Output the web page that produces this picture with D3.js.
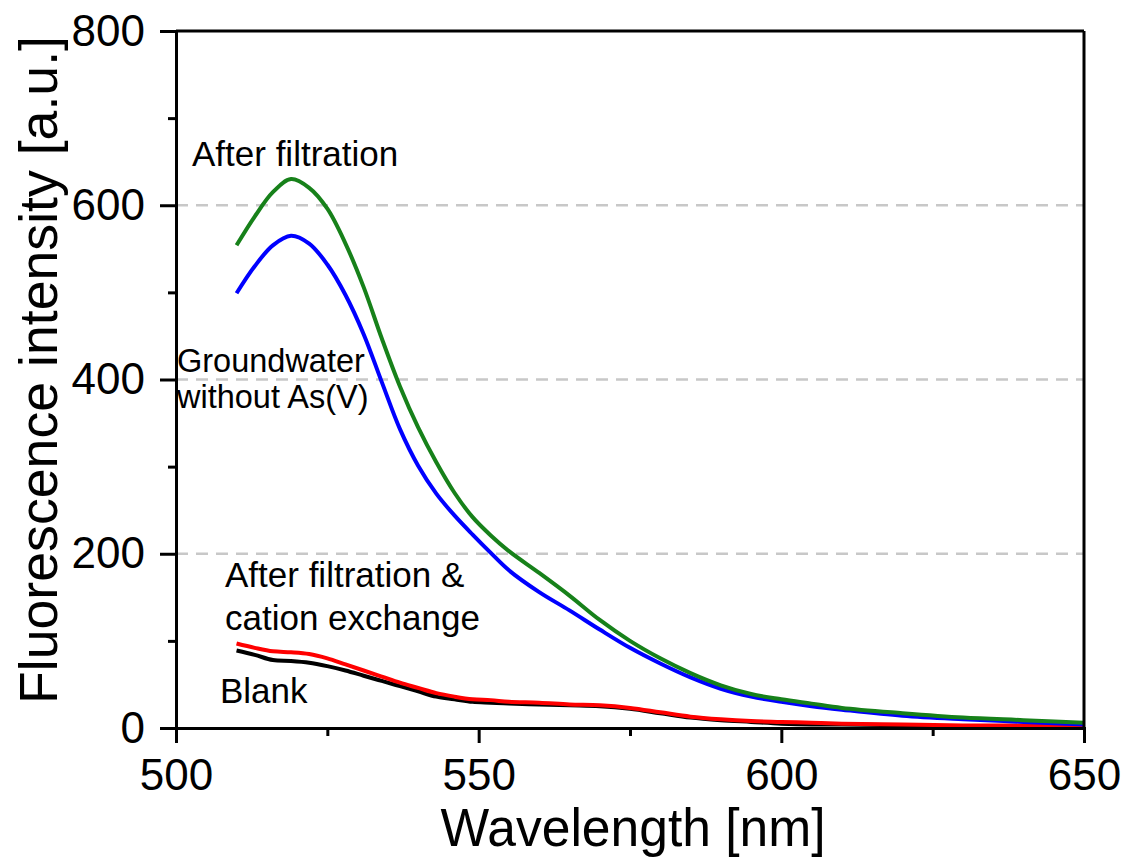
<!DOCTYPE html>
<html>
<head>
<meta charset="utf-8">
<script src="https://cdn.jsdelivr.net/npm/d3@7"></script>
<style>
  body { margin: 0; background: #fff; }
  text { font-family: Arial, "Liberation Sans", sans-serif; fill: #000; }
</style>
</head>
<body>
<div id="chart"></div>
<script>
// wavelengths (nm) and intensities
const wavelength = [510, 513, 516, 519, 522, 525, 528, 531, 534, 537, 540, 543, 546, 549, 552, 555, 560, 565, 570, 575, 580, 585, 590, 595, 600, 605, 610, 620, 630, 640, 650];
const afterFiltration = [554, 587, 615, 630, 620, 596, 556, 506, 447, 392, 345, 305, 270, 242, 221, 203, 178, 152, 124, 100, 80, 63, 49, 39, 33, 28, 23, 17, 12, 9, 6];
const groundwater = [499, 530, 554, 565, 556, 532, 497, 452, 397, 343, 301, 269, 244, 222, 201, 181, 156, 135, 113, 92, 74, 58, 45, 36, 30, 25, 21, 14, 10, 7, 4];
const cationExchange = [97, 92, 88, 87, 85, 80, 73, 66, 59, 52, 46, 40, 36, 33, 32, 30, 29, 27, 26, 23, 18, 13, 10, 8, 7, 6, 5, 4, 3, 3, 3];
const blank = [89, 84, 78, 77, 75, 71, 66, 60, 54, 48, 42, 36, 33, 30, 29, 28, 27, 26, 25, 22, 17, 12, 9, 7, 5, 4, 4, 3, 2, 2, 1];

const xMajor = [500, 550, 600, 650];
const xMinor = [525, 575, 625];
const yMajor = [0, 200, 400, 600, 800];
const yMinor = [100, 300, 500, 700];
const yGrid = [200, 400, 600];

const series = [
  {name: "Blank", values: blank, color: "#000000"},
  {name: "After filtration & cation exchange", values: cationExchange, color: "#ff0000"},
  {name: "Groundwater without As(V)", values: groundwater, color: "#0000ff"},
  {name: "After filtration", values: afterFiltration, color: "#17811a"}
];

const margin = {top: 31, right: 45, bottom: 130, left: 176},
  width = 1129 - margin.left - margin.right,
  height = 858 - margin.top - margin.bottom;

const svg = d3.select("#chart").append("svg")
  .attr("width", 1129)
  .attr("height", 858)
  .append("g")
  .attr("transform", `translate(${margin.left},${margin.top})`);

const x = d3.scaleLinear().domain([500, 650]).range([0, width]);
const y = d3.scaleLinear().domain([0, 800]).range([height, 0]);

// dashed grid
svg.append("g").selectAll("line")
  .data(yGrid)
  .join("line")
  .attr("x1", 0).attr("x2", width)
  .attr("y1", d => y(d)).attr("y2", d => y(d))
  .attr("stroke", "#c8c8c8")
  .attr("stroke-width", 2.5)
  .attr("stroke-dasharray", "12,8");

// curves
const line = d3.line()
  .x((d, i) => x(wavelength[i]))
  .y(d => y(d))
  .curve(d3.curveCatmullRom.alpha(0.5));

svg.append("g").selectAll("path")
  .data(series)
  .join("path")
  .attr("d", d => line(d.values))
  .attr("fill", "none")
  .attr("stroke", d => d.color)
  .attr("stroke-width", 4)
  .attr("stroke-linejoin", "round");

// x axis
svg.append("g").attr("transform", `translate(0,${height})`)
  .call(d3.axisBottom(x).tickValues(xMajor).tickSize(15).tickPadding(16).tickFormat(d3.format("d")));
svg.append("g").attr("transform", `translate(0,${height})`)
  .call(d3.axisBottom(x).tickValues(xMinor).tickSize(8).tickFormat(""))
  .select(".domain").remove();

// y axis
svg.append("g")
  .call(d3.axisLeft(y).tickValues(yMajor).tickSize(16).tickPadding(15).tickFormat(d3.format("d")));
svg.append("g")
  .call(d3.axisLeft(y).tickValues(yMinor).tickSize(8).tickFormat(""))
  .select(".domain").remove();

svg.selectAll(".tick line").attr("stroke", "#000").attr("stroke-width", 3);
svg.selectAll(".domain").attr("stroke", "#000").attr("stroke-width", 3);
svg.selectAll(".tick text").style("font-size", "44px").attr("fill", "#000");

// frame top & right
svg.append("line").attr("x1", 0).attr("x2", width).attr("y1", 0).attr("y2", 0)
  .attr("stroke", "#000").attr("stroke-width", 3);
svg.append("line").attr("x1", width).attr("x2", width).attr("y1", 0).attr("y2", height)
  .attr("stroke", "#000").attr("stroke-width", 3);

// axis titles (narrow, tall lettering as in the figure)
svg.append("text")
  .attr("x", 633 - margin.left)
  .attr("y", 846 - margin.top)
  .attr("text-anchor", "middle")
  .attr("textLength", 385)
  .attr("lengthAdjust", "spacingAndGlyphs")
  .style("font-size", "54px")
  .text("Wavelength [nm]");

svg.append("text")
  .attr("transform", `translate(${57 - margin.left},${370 - margin.top}) rotate(-90)`)
  .attr("text-anchor", "middle")
  .attr("textLength", 668)
  .attr("lengthAdjust", "spacingAndGlyphs")
  .style("font-size", "54px")
  .text("Fluorescence intensity [a.u.]");

// annotations
const notes = [
  {lines: ["After filtration"], x: 192, y: 166, size: 35, gap: 0},
  {lines: ["Groundwater", "without As(V)"], x: 177, y: 372, size: 32.5, gap: 36},
  {lines: ["After filtration &", "cation exchange"], x: 225, y: 587, size: 35, gap: 43},
  {lines: ["Blank"], x: 220, y: 703, size: 35, gap: 0}
];
notes.forEach(n => {
  const t = svg.append("text")
    .attr("x", n.x - margin.left)
    .attr("y", n.y - margin.top)
    .style("font-size", n.size + "px");
  n.lines.forEach((l, i) => {
    t.append("tspan")
      .attr("x", n.x - margin.left)
      .attr("dy", i === 0 ? 0 : n.gap)
      .text(l);
  });
});
</script>
</body>
</html>
